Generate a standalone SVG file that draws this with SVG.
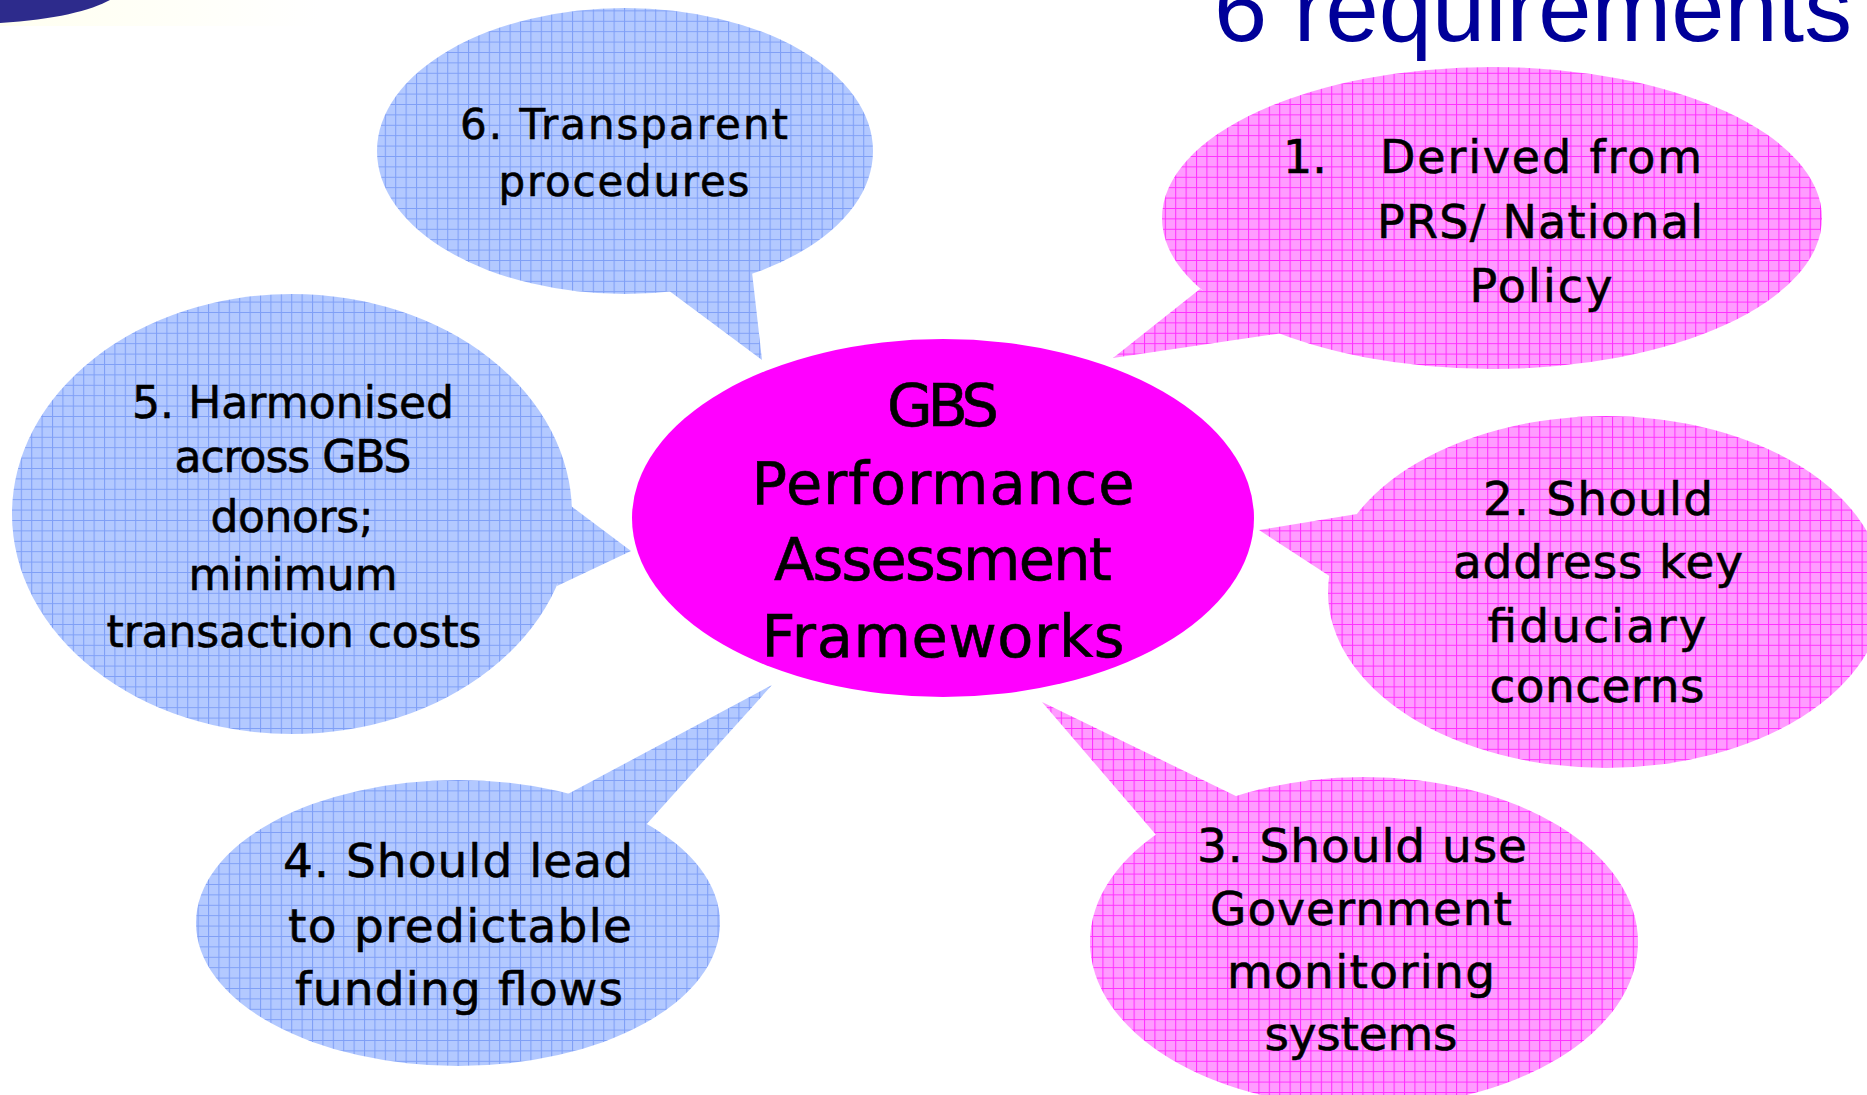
<svg xmlns="http://www.w3.org/2000/svg" width="1867" height="1095" viewBox="0 0 1867 1095">
  <defs>
    <!-- graph-paper fills for the callouts -->
    <pattern id="gridBlue" patternUnits="userSpaceOnUse" width="10.4" height="10.4">
      <rect width="10.4" height="10.4" fill="#b3c9ff"/>
      <path d="M0 0.5H10.4M0.5 0V10.4" stroke="#7f9ff6" stroke-width="1.1" fill="none"/>
    </pattern>
    <pattern id="gridPink" patternUnits="userSpaceOnUse" width="10.4" height="10.4">
      <rect width="10.4" height="10.4" fill="#ff9cff"/>
      <path d="M0 0.5H10.4M0.5 0V10.4" stroke="#ff30ff" stroke-width="1.1" fill="none"/>
    </pattern>
    <linearGradient id="glow" x1="0" y1="0" x2="1" y2="0">
      <stop offset="0" stop-color="#fffff0"/>
      <stop offset="1" stop-color="#ffffff"/>
    </linearGradient>
  </defs>
  <style>
    .blue { fill: url(#gridBlue); }
    .pink { fill: url(#gridPink); }
    .core { fill: #ff00ff; }
    text { font-family: "DejaVu Sans", Verdana, sans-serif; fill: #000; stroke: #000; stroke-width: 0.6px; text-anchor: middle; }
    .t46 { font-size: 46px; }
    .t47 { font-size: 47px; }
    .t44 { font-size: 44px; }
    .t42 { font-size: 42px; }
    .t59 { font-size: 59px; }
    .title { font-family: "Liberation Sans", Arial, sans-serif; font-size: 95px; fill: #000099; stroke: none; text-anchor: start; }
  </style>

  <rect width="1867" height="1095" fill="#ffffff"/>

  <!-- corner decoration -->
  <rect x="0" y="0" width="320" height="26" fill="url(#glow)"/>
  <path d="M0 0H110C92 10 54 20 0 23Z" fill="#2d2b8c"/>

  <!-- heading -->
  <text class="title" x="1214" y="41" textLength="638" lengthAdjust="spacingAndGlyphs">6 requirements</text>

  <!-- callout pointers -->
  <g id="connectors">
    <polygon class="blue" points="668,290 762,360 752,272"/>
    <polygon class="blue" points="571,506 631,551 557,586"/>
    <polygon class="blue" points="566,795 772,685 645,826"/>
    <polygon class="pink" points="1200,289 1113,358 1283,333"/>
    <polygon class="pink" points="1357,514 1259,530 1331,577"/>
    <polygon class="pink" points="1240,798 1042,702 1157,836"/>
  </g>

  <g id="center">
    <ellipse class="core" cx="943" cy="518" rx="311" ry="179"/>
    <text class="t59" x="943" y="426" textLength="112">GBS</text>
    <text class="t59" x="943" y="504" textLength="383">Performance</text>
    <text class="t59" x="943" y="580" textLength="338">Assessment</text>
    <text class="t59" x="943" y="657" textLength="363">Frameworks</text>
  </g>

  <g id="req1">
    <ellipse class="pink" cx="1492" cy="218" rx="330" ry="151"/>
    <text class="t46" x="1283" y="173" style="text-anchor:start">1.</text>
    <text class="t46" x="1541" y="173" textLength="322">Derived from</text>
    <text class="t46" x="1540" y="238" textLength="326">PRS/ National</text>
    <text class="t46" x="1541" y="302" textLength="143">Policy</text>
  </g>

  <g id="req2">
    <ellipse class="pink" cx="1606" cy="592" rx="278" ry="176"/>
    <text class="t47" x="1598" y="515" textLength="230">2. Should</text>
    <text class="t47" x="1598" y="578" textLength="290">address key</text>
    <text class="t47" x="1597" y="642" textLength="219">fiduciary</text>
    <text class="t47" x="1597" y="702" textLength="215">concerns</text>
  </g>

  <g id="req3">
    <ellipse class="pink" cx="1364" cy="942" rx="274" ry="165"/>
    <text class="t47" x="1362" y="862" textLength="330">3. Should use</text>
    <text class="t47" x="1361" y="925" textLength="302">Government</text>
    <text class="t47" x="1361" y="988" textLength="268">monitoring</text>
    <text class="t47" x="1361" y="1050" textLength="193">systems</text>
  </g>

  <g id="req4">
    <ellipse class="blue" cx="458" cy="923" rx="262" ry="143"/>
    <text class="t47" x="458" y="877" textLength="350">4. Should lead</text>
    <text class="t47" x="460" y="942" textLength="344">to predictable</text>
    <text class="t47" x="459" y="1005" textLength="328">funding flows</text>
  </g>

  <g id="req5">
    <ellipse class="blue" cx="292" cy="514" rx="280" ry="220"/>
    <text class="t44" x="293" y="418" textLength="322">5. Harmonised</text>
    <text class="t44" x="293" y="472" textLength="237">across GBS</text>
    <text class="t44" x="292" y="532" textLength="163">donors;</text>
    <text class="t44" x="293" y="590" textLength="209">minimum</text>
    <text class="t44" x="294" y="647" textLength="375">transaction costs</text>
  </g>

  <g id="req6">
    <ellipse class="blue" cx="625" cy="151" rx="248" ry="143"/>
    <text class="t42" x="624" y="139" textLength="328">6. Transparent</text>
    <text class="t42" x="624" y="196" textLength="251">procedures</text>
  </g>
</svg>
